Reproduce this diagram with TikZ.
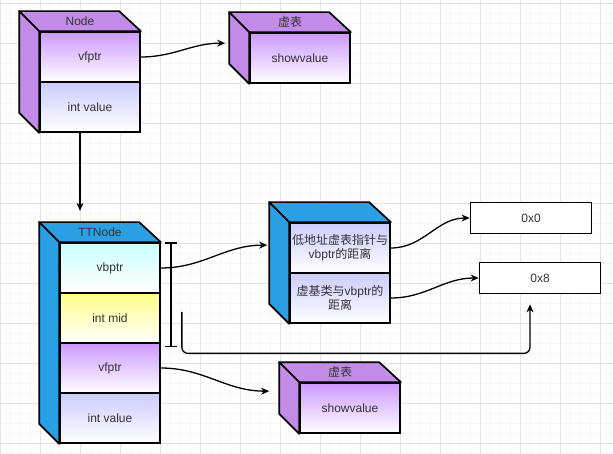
\documentclass[tikz,border=0pt]{standalone}
\usepackage{fontspec}
\setmainfont{Liberation Sans}
\newfontfamily\cjk{Noto Sans CJK SC}
\usepackage{xcolor}
\usetikzlibrary{arrows.meta,calc}
\definecolor{cpurple}{HTML}{C28BE8}
\definecolor{clilac} {HTML}{CC99FF}
\definecolor{cblue}  {HTML}{2B9FE3}
\definecolor{ccyan}  {HTML}{CCFFFF}
\definecolor{cyellow}{HTML}{FFFF88}
\definecolor{clav}   {HTML}{CCCCFF}

% top and left face of a box: top cell, bottom cell, colour
\newcommand{\boxfaces}[3]{%
  \filldraw[face, fill=#3] (#1.north west) -- ++(-20,-20) -- ++(100,0) -- (#1.north east) -- cycle;
  \filldraw[face, fill=#3] (#1.north west) -- ++(-20,-20) -- ($(#2.south west)+(-20,-20)$) -- (#2.south west) -- cycle;
}

\begin{document}
\begin{tikzpicture}[x=1pt, y=-1pt,
  cell/.style = {rectangle, draw, line width=1.7pt,
                 minimum width=100pt, minimum height=50pt, inner sep=0pt,
                 align=center, font=\fontsize{12}{14}\selectfont, text=black!80,
                 top color=#1, bottom color=white},
  face/.style = {line width=1.7pt, line join=round},
  val/.style  = {rectangle, draw, line width=1.7pt, fill=white,
                 minimum width=121pt, minimum height=31pt,
                 font=\fontsize{12}{14}\selectfont, text=black!80},
  lbl/.style  = {font=\fontsize{12}{14}\selectfont, text=black!80},
  arr/.style  = {-{Stealth[open, length=8pt, width=7pt]}, line width=1.3pt},
  minor/.style = {gray!6, line width=0.5pt},
  major/.style = {gray!22, line width=0.6pt}
]
\useasboundingbox (0,0) rectangle (613,454);
\fill[white] (0,0) rectangle (613,454);
% grid
\foreach \x in {0,10,...,610} \draw[minor] (\x,0) -- (\x,454);
\foreach \y in {3,13,...,453} \draw[minor] (0,\y) -- (613,\y);
\foreach \x in {0,40,...,600} \draw[major] (\x,0) -- (\x,454);
\foreach \y in {3,43,...,443} \draw[major] (0,\y) -- (613,\y);

% Node
\node[cell=clilac] (nvf)  at (90,57)  {vfptr};
\node[cell=clav]   (nval) at (90,107) {int value};
\boxfaces{nvf}{nval}{cpurple}
\node[lbl] (nname) at ($(nvf.north)+(-10,-10)$) {Node};

% vtable of Node
\node[cell=clilac] (vt1) at (300,58) {showvalue};
\boxfaces{vt1}{vt1}{cpurple}
\node[lbl] (vt1name) at ($(vt1.north)+(-10,-10)$) {\cjk 虚表};

% TTNode
\node[cell=ccyan]   (tvb)  at (110,268) {vbptr};
\node[cell=cyellow] (tmid) at (110,318) {int mid};
\node[cell=clilac]  (tvf)  at (110,368) {vfptr};
\node[cell=clav]    (tval) at (110,418) {int value};
\boxfaces{tvb}{tval}{cblue}
\node[lbl] (tname) at ($(tvb.north)+(-10,-10)$) {TTNode};

% vbtable
\node[cell=clav] (off1) at (340,248) {{\cjk 低地址虚表指针与}\\vbptr{\cjk 的距离}};
\node[cell=clav] (off2) at (340,298) {{\cjk 虚基类与}vbptr{\cjk 的}\\{\cjk 距离}};
\boxfaces{off1}{off2}{cblue}

\node[val] (v0) at (531,218) {0x0};
\node[val] (v8) at (540,278) {0x8};

% vtable of TTNode
\node[cell=clilac] (vt2) at (350,408) {showvalue};
\boxfaces{vt2}{vt2}{cpurple}
\node[lbl] (vt2name) at ($(vt2.north)+(-10,-10)$) {\cjk 虚表};

% connectors
\coordinate (vt1in) at ($(vt1.north west)+(-24,11)$);
\coordinate (ttop)  at ($(nval.south)+(-10,78)$);
\coordinate (offin) at ($(off1.north west)+(-22,23)$);
\coordinate (vt2in) at ($(vt2.north west)+(-30,9)$);
\draw[arr] (nvf.east) to[out=0, in=180] (vt1in);
\draw[arr] ([xshift=-10pt]nval.south) -- (ttop);
\draw[arr] (tvb.east) to[out=0, in=180] (offin);
\draw[arr] (off1.east) to[out=0, in=180] (v0.west);
\draw[arr] (off2.east) to[out=0, in=180] (v8.west);
\draw[arr] (tvf.east) to[out=0, in=180] (vt2in);

% offset bracket
\coordinate (btop) at ($(tvb.north east)+(10,0)$);
\coordinate (bbot) at ($(tvf.north east)+(10,5)$);
\draw[line width=1.6pt, {Bar[width=12pt]}-{Bar[width=12pt]}] (btop) -- (bbot);
\coordinate (dst)  at ($(tmid.east)+(21,-6)$);
\coordinate (v8in) at ($(v8.south)+(-10,10)$);
\draw[arr, rounded corners=6pt] (dst) |- ($(v8in)+(0,49)$) -- (v8in);
\end{tikzpicture}
\end{document}
